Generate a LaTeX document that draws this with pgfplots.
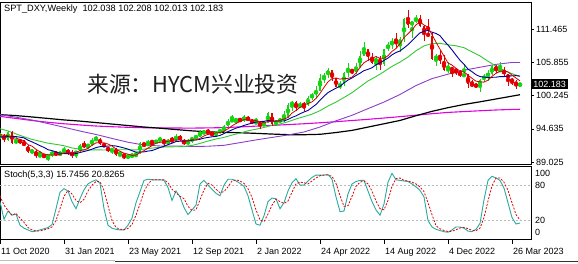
\documentclass[border=0pt]{standalone}
\usepackage{pgfplots}
\pgfplotsset{compat=1.18}
\usepackage{pgfplotstable}
\usepackage{fontspec}
\setmainfont{Liberation Sans}
\newfontfamily\cjk{Noto Sans CJK SC}
\definecolor{upc}{RGB}{20,212,20}
\definecolor{dnc}{RGB}{228,0,0}
\definecolor{ma5}{RGB}{215,0,0}
\definecolor{ma10}{RGB}{0,0,150}
\definecolor{ma20}{RGB}{50,200,50}
\definecolor{ma50}{RGB}{140,60,200}
\definecolor{ma200}{RGB}{225,0,225}
\definecolor{kcol}{RGB}{40,170,160}

% weekly candles: w, open, high, low, close
\pgfplotstableread{
w O H L C
0 93.06 93.90 92.98 93.68
2 92.76 94.30 92.65 94.04
4 92.23 93.21 92.01 92.75
8 90.70 91.25 90.42 90.98
10 90.02 90.95 89.96 90.24
12 89.94 90.18 89.21 90.10
13 90.10 90.95 89.92 90.77
15 90.22 90.95 89.97 90.58
16 90.58 91.60 90.48 91.04
19 90.36 90.93 89.68 90.88
20 90.88 92.05 90.66 91.98
22 91.67 92.12 91.30 91.91
23 91.91 93.06 91.80 92.84
24 92.84 93.44 92.56 92.94
28 90.87 91.45 90.42 91.28
30 90.23 90.95 89.98 90.30
32 90.01 90.30 89.53 90.02
33 90.02 90.64 89.66 90.15
34 90.15 90.60 89.81 90.56
35 90.56 92.41 90.41 92.23
37 91.85 92.74 91.81 92.23
39 92.13 92.83 92.12 92.70
40 92.70 93.19 92.53 92.90
42 92.17 92.86 91.94 92.80
44 92.52 93.73 92.48 93.50
47 92.04 92.92 92.00 92.58
48 92.58 93.30 92.29 93.20
49 93.20 93.53 92.92 93.29
50 93.29 94.50 93.20 94.04
51 94.04 94.28 93.78 94.08
54 93.64 94.30 93.28 94.12
55 94.12 94.63 93.87 94.32
56 94.32 95.27 93.87 95.12
57 95.12 96.27 94.95 96.04
58 96.04 96.94 95.98 96.09
59 96.09 96.39 95.52 96.16
61 96.08 96.91 95.85 96.64
64 95.67 96.47 95.60 95.75
66 95.17 95.94 95.04 95.64
67 95.64 97.44 95.60 97.27
69 95.44 96.17 95.13 96.07
70 96.07 96.43 95.60 96.10
71 96.10 97.74 95.80 96.62
72 96.62 98.93 96.50 98.67
73 98.67 99.42 97.71 99.13
75 98.23 99.10 98.18 98.79
77 98.62 100.19 98.50 99.84
78 99.84 100.77 99.57 100.50
79 100.50 101.86 99.82 101.10
80 101.10 103.93 101.04 103.16
81 103.16 104.07 102.35 103.66
82 103.66 105.01 103.28 104.55
85 101.67 102.74 101.30 102.15
86 102.15 104.24 101.94 104.15
87 104.15 105.79 103.41 104.69
89 104.19 105.79 103.90 105.14
90 105.14 107.79 104.86 107.01
91 107.01 109.29 106.93 108.07
94 105.85 106.93 104.64 106.62
96 105.58 108.22 105.27 108.14
97 108.14 109.27 107.88 108.81
98 108.81 110.00 108.20 109.54
100 109.00 110.21 107.60 109.76
101 109.76 113.33 109.27 113.18
103 112.12 112.91 110.05 112.79
104 112.79 113.88 112.45 113.31
109 106.40 107.30 105.34 106.97
112 104.53 105.88 104.11 104.82
116 103.52 105.63 103.40 103.89
120 101.92 103.00 100.82 102.92
121 102.92 103.96 102.60 103.63
122 103.63 104.67 102.80 103.87
123 103.87 105.36 103.78 105.21
125 104.52 105.88 104.35 104.58
130 102.038 102.208 102.013 102.183
}\up

\pgfplotstableread{
w O H L C
1 93.68 93.74 92.47 92.76
3 94.04 94.30 92.13 92.23
5 92.75 92.92 92.13 92.39
6 92.39 92.70 91.73 91.79
7 91.79 91.92 90.50 90.70
9 90.98 91.00 89.72 90.02
11 90.24 90.43 89.66 89.94
14 90.77 90.90 89.98 90.22
17 91.04 91.26 90.25 90.48
18 90.48 91.06 89.68 90.36
21 91.98 92.51 91.37 91.67
25 92.94 93.02 91.98 92.16
26 92.16 92.24 91.51 91.56
27 91.56 91.64 90.79 90.87
29 91.28 91.43 90.00 90.23
31 90.30 90.40 89.53 90.01
36 92.23 92.33 91.51 91.85
38 92.23 92.83 92.05 92.13
41 92.90 92.95 91.78 92.17
43 92.80 93.20 92.46 92.52
45 93.50 93.58 92.64 92.70
46 92.70 92.92 91.94 92.04
52 94.08 94.56 93.82 93.96
53 93.96 94.03 93.50 93.64
60 96.16 96.46 95.84 96.08
62 96.64 96.75 95.96 96.00
63 96.00 96.32 95.54 95.67
65 95.75 96.05 94.63 95.17
68 97.27 97.29 95.14 95.44
74 99.13 99.29 97.71 98.23
76 98.79 99.13 97.69 98.62
83 104.55 104.64 102.65 103.19
84 103.19 103.31 101.65 101.67
88 104.69 104.79 103.86 104.19
92 108.07 108.20 106.13 106.73
93 106.73 107.43 105.55 105.85
95 106.62 106.88 104.64 105.58
99 109.54 110.78 108.36 109.00
102 113.18 114.78 111.61 112.12
105 113.31 113.95 111.82 111.98
106 111.98 112.13 109.54 110.76
107 110.76 113.15 110.10 110.30
108 110.30 110.97 106.27 106.40
110 106.97 107.99 105.63 106.06
111 106.06 107.11 104.37 104.53
113 104.82 105.06 103.45 104.70
114 104.70 104.86 103.80 104.31
115 104.31 104.56 103.39 103.52
117 103.89 103.95 101.53 102.20
118 102.20 102.90 101.77 101.99
119 101.99 102.40 101.50 101.92
124 105.21 105.36 104.10 104.52
126 104.58 105.10 103.44 103.86
127 103.86 103.89 101.92 103.12
128 103.12 103.20 102.00 102.51
129 102.51 102.85 101.45 102.08
}\dn

% short moving averages (weekly)
\pgfplotstableread{
w a b
0 93.63 93.29
1 93.60 93.25
2 93.48 93.34
3 93.15 93.32
4 93.09 93.33
5 92.83 93.23
6 92.64 93.12
7 91.97 92.73
8 91.72 92.44
9 91.18 92.13
10 90.75 91.79
11 90.38 91.51
12 90.26 91.11
13 90.21 90.97
14 90.25 90.72
15 90.32 90.53
16 90.54 90.46
17 90.62 90.44
18 90.54 90.38
19 90.67 90.46
20 90.95 90.64
21 91.07 90.81
22 91.36 90.99
23 91.86 91.20
24 92.27 91.47
25 92.30 91.63
26 92.28 91.68
27 92.07 91.72
28 91.76 91.81
29 91.22 91.74
30 90.85 91.58
31 90.54 91.41
32 90.37 91.22
33 90.14 90.95
34 90.21 90.71
35 90.59 90.72
36 90.96 90.75
37 91.40 90.89
38 91.80 90.97
39 92.23 91.22
40 92.36 91.48
41 92.43 91.69
42 92.54 91.97
43 92.62 92.21
44 92.78 92.50
45 92.74 92.55
46 92.71 92.57
47 92.67 92.60
48 92.80 92.71
49 92.76 92.77
50 93.03 92.88
51 93.44 93.08
52 93.71 93.19
53 93.80 93.30
54 93.97 93.37
55 94.02 93.53
56 94.23 93.84
57 94.65 94.18
58 95.14 94.47
59 95.55 94.76
60 95.90 94.96
61 96.20 95.22
62 96.19 95.42
63 96.11 95.62
64 96.03 95.79
65 95.85 95.87
66 95.65 95.92
67 95.90 96.05
68 95.85 95.98
69 95.92 95.97
70 96.10 95.97
71 96.29 95.97
72 96.57 96.24
73 97.31 96.58
74 97.74 96.83
75 98.29 97.19
76 98.69 97.49
77 98.92 97.75
78 99.20 98.25
79 99.77 98.76
80 100.64 99.47
81 101.65 100.17
82 102.59 100.76
83 103.13 101.16
84 103.25 101.51
85 103.04 101.84
86 103.14 102.40
87 103.17 102.88
88 103.37 103.25
89 104.06 103.66
90 105.04 104.04
91 105.82 104.48
92 106.23 104.70
93 106.56 104.97
94 106.86 105.46
95 106.57 105.80
96 106.58 106.20
97 107.00 106.61
98 107.74 107.15
99 108.21 107.54
100 109.05 107.81
101 110.06 108.32
102 110.72 108.86
103 111.37 109.55
104 112.23 110.22
105 112.68 110.86
106 112.19 111.13
107 111.83 111.28
108 110.55 110.97
109 109.28 110.76
110 108.10 110.39
111 106.94 109.53
112 105.76 108.80
113 105.42 107.99
114 104.88 107.09
115 104.38 106.24
116 104.25 105.56
117 103.72 104.74
118 103.18 104.30
119 102.70 103.79
120 102.58 103.48
121 102.53 103.39
122 102.87 103.30
123 103.51 103.35
124 104.03 103.37
125 104.36 103.47
126 104.41 103.47
127 104.26 103.56
128 103.72 103.61
129 103.23 103.63
130 102.75 103.56
}\mashort

\pgfplotstableread{
w g
0 94.66
2 94.29
4 93.78
6 93.30
8 92.86
10 92.54
12 92.22
14 92.02
16 91.79
18 91.41
20 91.21
22 91.05
24 91.09
26 91.07
28 91.09
30 91.11
32 91.11
34 91.09
36 91.21
38 91.39
40 91.53
42 91.60
44 91.61
46 91.66
48 91.84
50 92.18
52 92.58
54 92.93
56 93.20
58 93.59
60 93.92
62 94.31
64 94.58
66 94.88
68 95.23
70 95.47
72 95.83
74 96.31
76 96.71
78 97.12
80 97.72
82 98.50
84 99.17
86 99.94
88 100.75
90 101.75
92 102.73
94 103.48
96 104.30
98 105.20
100 105.93
102 106.78
104 107.84
106 108.66
108 109.06
110 109.10
112 108.85
114 108.68
116 108.36
118 107.65
120 106.96
122 106.07
124 105.25
126 104.53
128 103.96
130 103.52
}\matwenty

% long moving averages: p = 50, k = 100 (black), m = 200 (magenta)
\pgfplotstableread{
w p k m
0 97.04 97.04 96.75
4 96.61 96.88 96.40
8 96.13 96.65 96.05
12 95.54 96.40 95.75
16 94.91 96.15 95.50
20 94.27 95.95 95.30
24 93.69 95.70 95.12
28 93.02 95.45 95.00
32 92.38 95.20 94.90
36 91.90 94.95 94.83
40 91.75 94.75 94.80
44 91.75 94.52 94.78
48 91.66 94.30 94.77
52 91.70 94.14 94.80
56 91.86 94.05 94.85
60 92.31 93.98 94.97
64 92.77 93.88 95.10
68 93.19 93.76 95.23
72 93.61 93.66 95.36
76 94.11 93.65 95.50
80 94.95 93.72 95.67
84 96.00 94.02 95.85
88 96.93 94.38 96.05
92 98.06 94.94 96.25
96 99.17 95.50 96.47
100 100.45 96.06 96.70
104 101.96 96.86 96.95
108 103.13 97.60 97.20
112 103.88 98.22 97.42
116 104.56 98.76 97.56
120 105.05 99.21 97.70
124 105.54 99.69 97.83
128 105.86 100.17 97.92
130 105.86 100.41 97.95
}\malong

% Stochastic (5,3,3): %K and %D
\pgfplotstableread{
w K D
0 52 62
1 22 46
2 36 37
3 29 29
4 31 32
5 12 24
6 7 17
7 4 8
8 1 4
9 2 2.3
10 4 2.3
11 6 4
12 8 6
13 13 9
14 40 20
15 68 40
16 74 61
17 70 71
18 52 65
19 40 54
20 57 50
21 72 56
22 82 70
23 86 80
24 89 86
25 83 86
26 40 71
27 12 45
28 7 20
29 5 8
30 4 5.3
31 4 4.3
32 12 6.7
33 24 13
34 50 29
35 69 48
36 88 69
37 90 82
38 89 89
39 89 89
40 89 89
41 88 89
42 76 84
43 54 73
44 70 67
45 60 61
46 42 57
47 30 44
48 38 37
49 46 38
50 82 55
51 88 72
52 80 83
53 73 80
54 66 73
55 62 67
56 80 69
57 90 77
58 90 87
59 87 89
60 83 87
61 78 83
62 62 74
63 38 59
64 14 38
65 12 21
66 28 18
67 52 31
68 58 46
69 57 56
70 40 52
71 50 49
72 70 53
73 84 68
74 91 82
75 80 85
76 80 84
77 87 82
78 93 87
79 97 92
80 97 96
81 97 97
82 98 97
83 90 95
84 60 83
85 35 62
86 36 44
87 65 45
88 82 61
89 86 78
90 88 85
91 88 87
92 70 82
93 52 70
94 38 53
95 29 40
96 48 38
97 85 54
98 100 78
99 89 91
100 88 92
101 87 88
102 86 87
103 82 85
104 77 82
105 71 77
106 60 69
107 20 50
108 9 30
109 5 11
110 3 6
111 1 3
112 0 1.3
113 4 1.7
114 9 4.3
115 9 7.3
116 7 8.3
117 2 6
118 1 3.3
119 5 2.7
120 15 7
121 55 25
122 88 53
123 95 79
124 92 92
125 88 92
126 75 85
127 50 71
128 25 50
129 14 30
130 15.7456 20.8265
}\stoch

\newcommand{\lbl}{\fontsize{9}{10}\selectfont}

\begin{document}
\begin{tikzpicture}
\useasboundingbox (0pt,0pt) rectangle (578pt,263pt);

% ---------------- main price panel ----------------
\begin{axis}[
  at={(0pt,99pt)}, anchor=south west, scale only axis,
  width=531pt, height=162pt,
  xmin=0, xmax=132.75, ymin=88.70, ymax=116.08,
  axis line style={black, line width=0.8pt},
  xtick=\empty,
  ytick={89.025,94.635,100.245,105.855,111.465},
  yticklabels={89.025,94.635,100.245,105.855,111.465},
  ytick pos=right, yticklabel pos=right,
  tick align=outside, major tick length=3pt,
  tick style={black, line width=0.6pt},
  yticklabel style={font=\lbl, anchor=west, inner sep=0pt, xshift=2pt},
  clip mode=individual,
]
% long MAs
\addplot[ma200, line width=1.1pt] table[x=w, y=m] {\malong};
\addplot[black, line width=1.2pt] table[x=w, y=k] {\malong};
\addplot[ma50, line width=0.9pt] table[x=w, y=p] {\malong};
\addplot[ma20, line width=0.9pt] table[x=w, y=g] {\matwenty};
% candles: wicks
\addplot[upc, only marks, mark=none, error bars/.cd, y dir=both, y explicit, error mark=none,
  error bar style={line width=0.8pt}]
  table[x=w, y expr=(\thisrow{H}+\thisrow{L})/2, y error expr=(\thisrow{H}-\thisrow{L})/2] {\up};
\addplot[dnc, only marks, mark=none, error bars/.cd, y dir=both, y explicit, error mark=none,
  error bar style={line width=0.8pt}]
  table[x=w, y expr=(\thisrow{H}+\thisrow{L})/2, y error expr=(\thisrow{H}-\thisrow{L})/2] {\dn};
% candles: bodies
\addplot[upc, only marks, mark=none, error bars/.cd, y dir=both, y explicit, error mark=none,
  error bar style={line width=2.7pt}]
  table[x=w, y expr=(\thisrow{O}+\thisrow{C})/2, y error expr={max(abs(\thisrow{C}-\thisrow{O})/2,0.05)}] {\up};
\addplot[dnc, only marks, mark=none, error bars/.cd, y dir=both, y explicit, error mark=none,
  error bar style={line width=2.7pt}]
  table[x=w, y expr=(\thisrow{O}+\thisrow{C})/2, y error expr={max(abs(\thisrow{C}-\thisrow{O})/2,0.05)}] {\dn};
% short MAs
\addplot[ma10, line width=0.9pt] table[x=w, y=b] {\mashort};
\addplot[ma5, line width=0.8pt] table[x=w, y=a] {\mashort};
% current price tag
\node[fill=black, text=white, anchor=west, inner xsep=1.6pt, inner ysep=1.6pt, font=\lbl, xshift=0.6pt]
  at (axis cs:132.75,102.183) {102.183};
\end{axis}

% ---------------- stochastic panel ----------------
\begin{axis}[
  at={(0pt,24pt)}, anchor=south west, scale only axis,
  width=531pt, height=73pt,
  xmin=0, xmax=132.75, ymin=-11.4, ymax=112.4,
  axis line style={black, line width=0.8pt},
  xtick={0,16,32,48,64,80,96,112,128},
  xticklabels={11 Oct 2020,31 Jan 2021,23 May 2021,12 Sep 2021,2 Jan 2022,24 Apr 2022,14 Aug 2022,4 Dec 2022,26 Mar 2023},
  xtick pos=bottom,
  ytick={0,20,80,100}, yticklabels={0,20,80,100},
  ytick pos=right, yticklabel pos=right,
  tick align=outside, major tick length=4.5pt,
  tick style={black, line width=0.6pt},
  xticklabel style={font=\lbl, anchor=north west, inner sep=0pt, xshift=1pt, yshift=-5pt},
  yticklabel style={font=\lbl, anchor=west, inner sep=0pt, xshift=-0.5pt},
  ytick style={draw=none},
  clip mode=individual,
]
\addplot[gray!55, dash pattern=on 2pt off 2pt, line width=0.6pt] coordinates {(0,20) (132.75,20)};
\addplot[gray!55, dash pattern=on 2pt off 2pt, line width=0.6pt] coordinates {(0,80) (132.75,80)};
\addplot[kcol, line width=0.9pt] table[x=w, y=K] {\stoch};
\addplot[dnc, line width=0.8pt, dash pattern=on 2pt off 1.5pt] table[x=w, y=D] {\stoch};
\end{axis}

% texts
\node[anchor=west, inner sep=0pt, font=\fontsize{9.2}{10}\selectfont] at (4pt,253.6pt) {SPT\_DXY,Weekly\ \ 102.038 102.208 102.013 102.183};
\node[anchor=west, inner sep=0pt, font=\fontsize{9.1}{10}\selectfont] at (4pt,87.7pt) {Stoch(5,3,3) 15.7456 20.8265};
\node[anchor=west, inner sep=0pt, text=black!88, font=\cjk\fontsize{21.8}{24}\selectfont] at (87pt,178.5pt) {来源：HYCM兴业投资};
\draw[black!25, line width=1.2pt] (0pt,2.6pt) -- (115pt,2.6pt);
\draw[black!80, line width=0.8pt] (115pt,1.6pt) -- (578pt,1.6pt);
\end{tikzpicture}
\end{document}
